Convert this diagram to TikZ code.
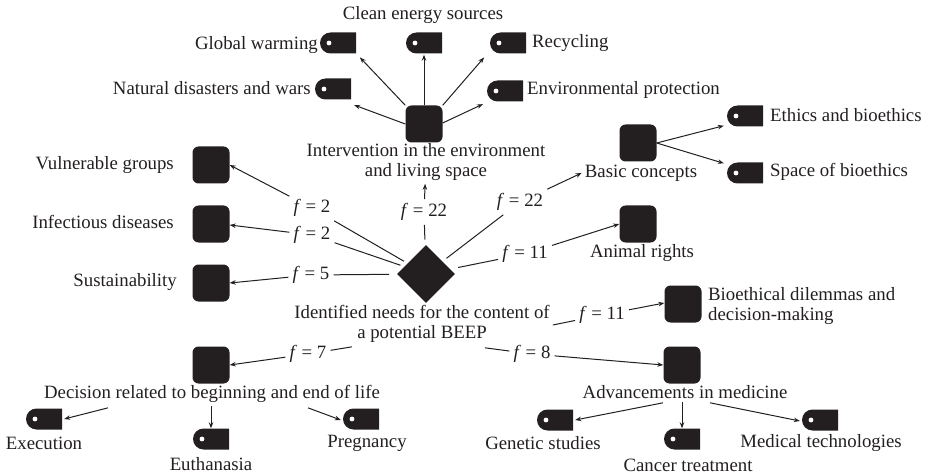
\documentclass[tikz,border=0pt]{standalone}
\usepackage{fontspec}
\setmainfont{Liberation Serif}
\usetikzlibrary{shapes.geometric,arrows.meta}
\definecolor{ink}{HTML}{231F20}
\tikzset{
  every node/.style={font=\fontsize{18.8}{20}\selectfont, text=ink},
  sq/.style={rectangle, rounded corners=6pt, fill=ink, minimum size=37pt, inner sep=0pt},
  tag/.style={rectangle, minimum width=36pt, minimum height=21pt, inner sep=0pt,
    path picture={
      \fill[ink] (path picture bounding box.north east) -- (path picture bounding box.south east)
        -- ([xshift=10.5pt]path picture bounding box.south west) arc[start angle=270, end angle=90, radius=10.5pt] -- cycle;
      \fill[white] ([xshift=9pt]path picture bounding box.west) circle (2.4pt);
    }},
  hub/.style={diamond, fill=ink, minimum width=58pt, minimum height=58pt, inner sep=0pt},
  lbl/.style={inner sep=3pt},
  freq/.style={inner sep=4pt},
  con/.style={draw=ink, line width=1pt},
  arr/.style={con, -{Stealth[length=6pt, width=4.5pt]}},
}
\newcommand{\fq}[1]{\textit{f} = #1}
\begin{document}
\begin{tikzpicture}[x=1pt, y=-1pt]
\useasboundingbox (0,0) rectangle (927,476);

% central need
\node[hub] (dia) at (426,274) {};
\node[lbl, align=center] (idn) at (422,324) {Identified needs for the content of\\a potential BEEP};

% topic boxes
\node[sq] (intv)   at (424,124) {};
\node[sq] (basic)  at (638,143) {};
\node[sq] (animal) at (638,224) {};
\node[sq] (dilem)  at (683,304) {};
\node[sq] (adv)    at (682,365) {};
\node[sq] (decis)  at (211,365) {};
\node[sq] (vuln)   at (211,165) {};
\node[sq] (infect) at (211,224) {};
\node[sq] (sust)   at (211,283) {};

% sub-topic tags
\node[tag] (gw)    at (338,43) {};
\node[tag] (clean) at (424,43) {};
\node[tag] (recyc) at (508,43) {};
\node[tag] (natd)  at (333,89) {};
\node[tag] (envp)  at (505,91) {};
\node[tag] (eth)   at (745,116) {};
\node[tag] (spb)   at (745,173) {};
\node[tag] (exe)   at (44,419) {};
\node[tag] (euth)  at (211,439) {};
\node[tag] (preg)  at (361,419) {};
\node[tag] (gen)   at (555,420) {};
\node[tag] (canc)  at (682,439) {};
\node[tag] (medt)  at (820,420) {};

% texts
\node[lbl] (tclean) at (423,15) {Clean energy sources};
\node[lbl, anchor=east] (tgw) at (321,45) {Global warming};
\node[lbl, anchor=west] (trecyc) at (529,43) {Recycling};
\node[lbl, anchor=east] (tnat) at (314,88) {Natural disasters and wars};
\node[lbl, anchor=west] (tenv) at (524,90) {Environmental protection};
\node[lbl, align=center] (tintv) at (426,162) {Intervention in the environment\\and living space};
\node[lbl] (tbasic) at (641,173) {Basic concepts};
\node[lbl, anchor=west] (teth) at (767,115) {Ethics and bioethics};
\node[lbl, anchor=west] (tspb) at (767,172) {Space of bioethics};
\node[lbl] (tanimal) at (642,253) {Animal rights};
\node[lbl, anchor=west, align=left] (tdilem) at (705,306) {Bioethical dilemmas and\\decision-making};
\node[lbl, anchor=east] (tvuln) at (177,165) {Vulnerable groups};
\node[lbl, anchor=east] (tinf) at (177,222) {Infectious diseases};
\node[lbl, anchor=east] (tsust) at (180,282) {Sustainability};
\node[lbl] (tdecis) at (212,394) {Decision related to beginning and end of life};
\node[lbl] (texe) at (44,443) {Execution};
\node[lbl] (teuth) at (211,464) {Euthanasia};
\node[lbl] (tpreg) at (367,443) {Pregnancy};
\node[lbl] (tadv) at (685,392) {Advancements in medicine};
\node[lbl] (tgen) at (543,443) {Genetic studies};
\node[lbl] (tcanc) at (688,465) {Cancer treatment};
\node[lbl] (tmedt) at (821,443) {Medical technologies};

% frequencies
\node[freq] (f22a) at (424,212) {\fq{22}};
\node[freq] (f22b) at (520,202) {\fq{22}};
\node[freq] (f11a) at (525,254) {\fq{11}};
\node[freq] (f11b) at (602,315) {\fq{11}};
\node[freq] (f8)   at (532,354) {\fq{8}};
\node[freq] (f7)   at (308,354) {\fq{7}};
\node[freq] (f2a)  at (312,208) {\fq{2}};
\node[freq] (f2b)  at (312,235) {\fq{2}};
\node[freq] (f5)   at (311,275) {\fq{5}};

% free ends below the central caption
\coordinate (c11b) at ([yshift=-1pt]idn.east);
\coordinate (c8)   at ([xshift=63pt, yshift=-2pt]idn.south);
\coordinate (c7)   at ([xshift=-70pt, yshift=-1pt]idn.south);

% connectors from the central need
\draw[con, shorten <=6pt] (dia) -- (f22a);
\draw[arr] (f22a) -- (tintv);
\draw[con, shorten <=5pt] (dia) -- (f22b);
\draw[arr] (f22b) -- (tbasic.west);
\draw[con, shorten <=8pt] (dia) -- (f11a);
\draw[arr] (f11a) -- (animal.west);
\draw[con] (c11b) -- (f11b);
\draw[arr] (f11b) -- ([yshift=1pt]dilem.west);
\draw[con] (c8) -- (f8);
\draw[arr] (f8) -- (adv.west);
\draw[con] (c7) -- (f7);
\draw[arr] (f7) -- (decis.east);
\draw[con, shorten <=4pt] (dia) -- (f2a);
\draw[arr] (f2a) -- (vuln.east);
\draw[con, shorten <=4pt] (dia) -- (f2b);
\draw[arr] (f2b) -- ([yshift=-1pt]infect.east);
\draw[con, shorten <=8pt] (dia) -- (f5);
\draw[arr] (f5) -- (sust.east);

% environment sub-topics
\draw[arr, shorten >=1pt] (intv.north west) -- ([xshift=3pt, yshift=-3pt]gw.south east);
\draw[arr, shorten >=1pt] (intv.north) -- (clean.south);
\draw[arr, shorten >=1pt] (intv.north east) -- ([xshift=-5pt, yshift=-3pt]recyc.south west);
\draw[arr, shorten >=1pt] (intv.west) -- ([xshift=2pt, yshift=-5pt]natd.south east);
\draw[arr, shorten >=1pt] ([yshift=1pt]intv.east) -- ([xshift=-3pt, yshift=-2pt]envp.south west);

% basic concepts
\draw[arr] (basic.east) -- ([xshift=-3pt, yshift=1pt]eth.south west);
\draw[arr] (basic.east) -- ([xshift=-3pt, yshift=-1pt]spb.north west);

% beginning and end of life
\draw[arr] ([xshift=-104pt, yshift=-2pt]tdecis.south) -- ([xshift=2pt]exe.east);
\draw[arr] (euth.north |- tdecis.south) -- (euth.north);
\draw[arr] ([xshift=96pt, yshift=-2pt]tdecis.south) -- ([xshift=-2pt, yshift=-1pt]preg.west);

% medicine
\draw[arr] ([xshift=-22pt, yshift=-1pt]tadv.south) -- ([xshift=2pt]gen.east);
\draw[arr] (canc.north |- tadv.south) -- (canc.north);
\draw[arr] ([xshift=25pt, yshift=-1pt]tadv.south) -- ([xshift=-2pt, yshift=-1pt]medt.west);
\end{tikzpicture}
\end{document}
